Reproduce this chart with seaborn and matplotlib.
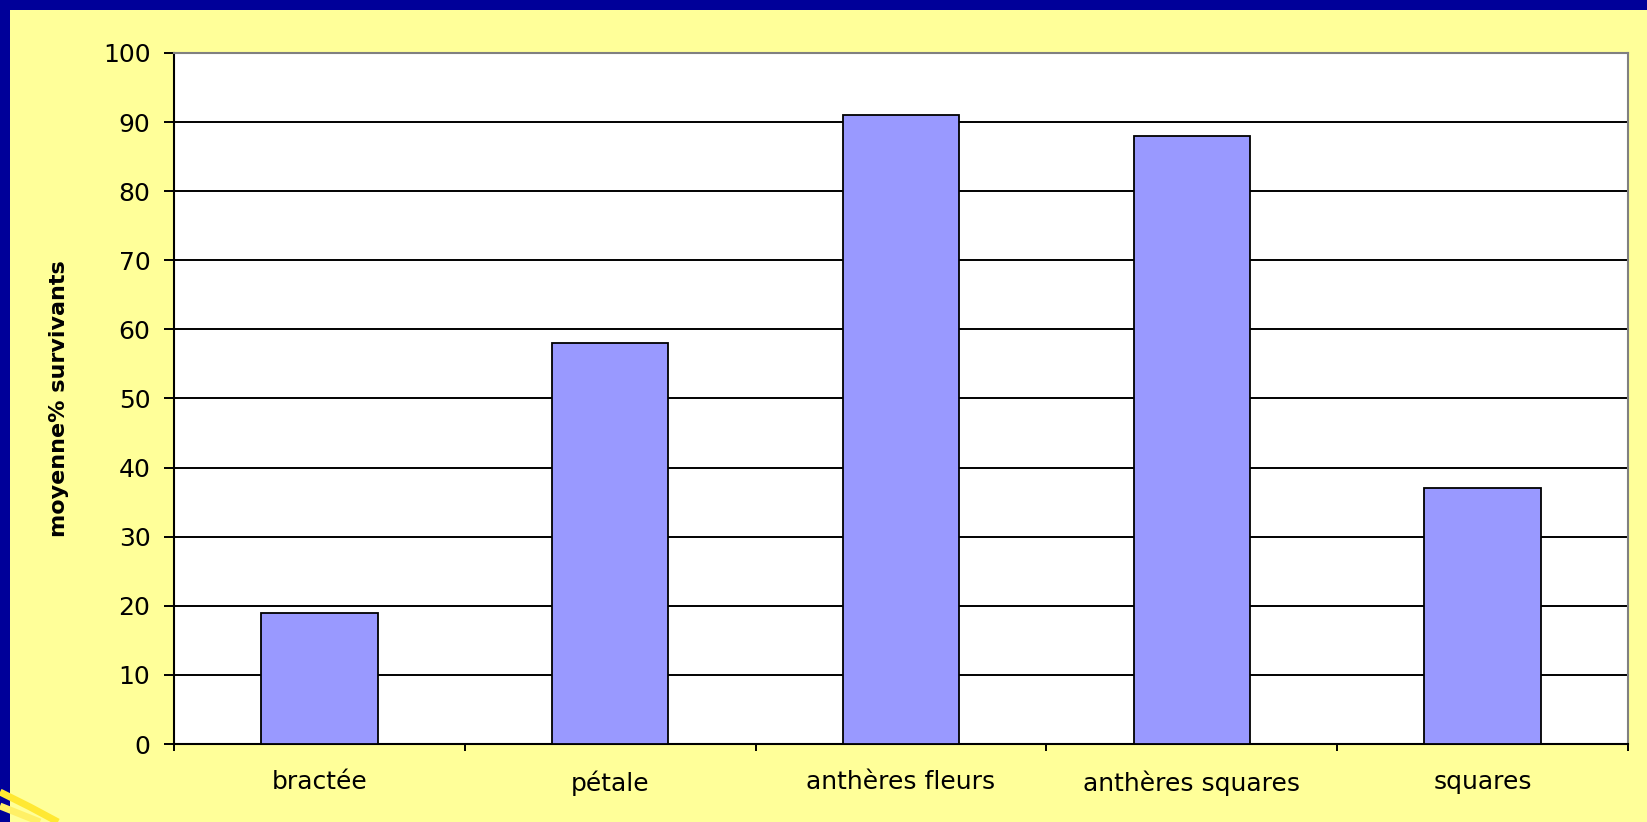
import matplotlib
matplotlib.use("Agg")
import matplotlib.pyplot as plt
import matplotlib.patches as mpatches
from matplotlib.lines import Line2D
from matplotlib.ticker import FixedLocator
import seaborn as sns
import pandas as pd

# Mean survival percentage per food source
categories = ["bractée", "pétale", "anthères fleurs", "anthères squares", "squares"]
survival = [19, 58, 91, 88, 37]
y_ticks = [0, 10, 20, 30, 40, 50, 60, 70, 80, 90, 100]
y_label = "moyenne% survivants"

NAVY = "#000099"
CREAM = "#FFFF99"
BAR = "#9999FF"

sns.set_theme(style="white")
plt.rcParams["font.family"] = ["DejaVu Sans"]

W, H = 1647, 822
fig = plt.figure(figsize=(W / 100, H / 100), dpi=100, facecolor=NAVY)

# cream slide background inside the navy frame
fig.patches.append(mpatches.Rectangle((10 / W, 0), 1 - 10 / W, 1 - 10 / H,
                                      transform=fig.transFigure, facecolor=CREAM,
                                      edgecolor="none", zorder=-2))
# decorative swoosh at the lower-left corner
fig.lines.append(Line2D([0 / W, 12 / W, 30 / W, 58 / W], [30 / H, 24 / H, 15 / H, 0 / H],
                        transform=fig.transFigure, color="#FFE833", lw=5,
                        solid_capstyle="butt", zorder=-1))
fig.lines.append(Line2D([0 / W, 20 / W, 40 / W], [16 / H, 8 / H, 0 / H],
                        transform=fig.transFigure, color="#FFF066", lw=5,
                        solid_capstyle="butt", zorder=-1))

ax = fig.add_axes([174 / W, 1 - 744 / H, (1628 - 174) / W, (744 - 53) / H])
ax.set_facecolor("white")

df = pd.DataFrame({"categorie": categories, "survie": survival})
sns.barplot(data=df, x="categorie", y="survie", color=BAR, width=0.4,
            edgecolor="black", linewidth=1.3, saturation=1, ax=ax, zorder=3)

ax.set_xlim(-0.5, len(categories) - 0.5)
ax.set_ylim(0, 100)
ax.yaxis.set_major_locator(FixedLocator(y_ticks))
ax.grid(axis="y", color="black", linewidth=1.4, zorder=1)
ax.set_axisbelow(True)

ax.xaxis.set_minor_locator(FixedLocator([i - 0.5 for i in range(len(categories) + 1)]))
ax.tick_params(axis="x", which="major", length=0, pad=19, labelsize=18, colors="black")
ax.tick_params(axis="x", which="minor", direction="out", length=5, width=1.4,
               color="black", bottom=True)
ax.tick_params(axis="y", which="major", direction="out", length=7, width=1.4,
               color="black", left=True, pad=10, labelsize=18, labelcolor="black")

for side in ("left", "bottom"):
    ax.spines[side].set_color("black")
    ax.spines[side].set_linewidth(1.5)
for side in ("top", "right"):
    ax.spines[side].set_color("#808080")
    ax.spines[side].set_linewidth(1.5)
    ax.spines[side].set_visible(True)

ax.set_xlabel("")
ax.set_ylabel(y_label, fontsize=16, fontweight="bold", color="black")
ax.yaxis.set_label_coords(-0.072, 0.5)

fig.savefig("out.png", dpi=100, facecolor=NAVY)
